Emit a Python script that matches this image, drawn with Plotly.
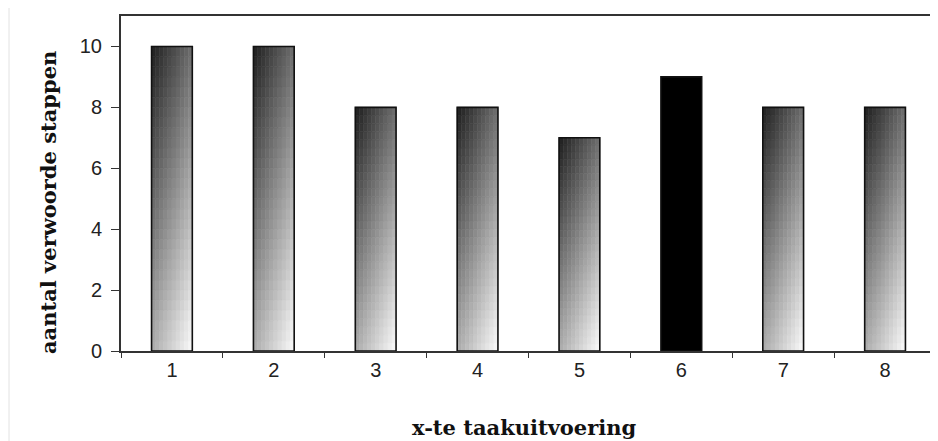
import plotly.graph_objects as go

categories = ["1", "2", "3", "4", "5", "6", "7", "8"]
values = [10, 10, 8, 8, 7, 9, 8, 8]
solid_index = 5  # bar "6" is drawn solid black
y_ticks = [0, 2, 4, 6, 8, 10]

BAR_W = 0.4
M = 10   # horizontal slices per bar (for gradient)
N = 30   # vertical segments per bar

# page has an 8px body margin, so figure coords = page coords - 8
OFF = 8
L, T = 121 - OFF, 16 - OFF
PW, PH = 815, 335
R = 938 - L - PW
B = 441 - T - PH


def px_x(page_x):
    return (page_x - OFF - L) / PW


def px_y(page_y):
    return (T + PH - (page_y - OFF)) / PH


def shade(u, h):
    # u: 0 left -> 1 right ; h: 0 bottom -> 1 top
    g = 30 + 222 * (0.64 * (1 - h) + 0.36 * u)
    g = int(max(0, min(255, g)))
    return f"rgb({g},{g},{g})"


grad_cats = [c for i, c in enumerate(categories) if i != solid_index]
grad_vals = [v for i, v in enumerate(values) if i != solid_index]

fig = go.Figure()
for j in range(M):
    xs, ys, bases, cols = [], [], [], []
    u = (j + 0.5) / M
    for c, v in zip(grad_cats, grad_vals):
        for k in range(N):
            h = (k + 0.5) / N
            xs.append(c)
            ys.append(v / N)
            bases.append(k * v / N)
            cols.append(shade(u, h))
    fig.add_trace(go.Bar(
        x=xs, y=ys, base=bases,
        width=BAR_W / M, offset=-BAR_W / 2 + j * BAR_W / M,
        marker=dict(color=cols, line=dict(color=cols, width=0.6)),
        hoverinfo="skip", showlegend=False,
    ))

# solid black bar
fig.add_trace(go.Bar(
    x=[categories[solid_index]], y=[values[solid_index]], width=BAR_W,
    marker=dict(color="black", line=dict(width=0)),
    hoverinfo="skip", showlegend=False,
))

# outline
fig.add_trace(go.Bar(
    x=categories, y=values, width=BAR_W,
    marker=dict(color="rgba(0,0,0,0)", line=dict(color="#111", width=1.6)),
    showlegend=False,
))

title_font = dict(family="DejaVu Serif, serif", size=21, color="#111")
fig.update_layout(
    width=938, height=441,
    margin=dict(l=L, r=R, t=T, b=B, autoexpand=False),
    barmode="overlay",
    plot_bgcolor="white", paper_bgcolor="white",
    font=dict(family="Liberation Sans, Arial, sans-serif", size=20, color="#222"),
    shapes=[dict(type="line", xref="paper", yref="paper",
                 x0=px_x(9), x1=px_x(9), y0=px_y(441), y1=px_y(8),
                 line=dict(color="#e2e2e2", width=1))],
    annotations=[
        dict(text="<b>x-te taakuitvoering</b>", xref="paper", yref="paper",
             x=px_x(524), y=px_y(427), showarrow=False,
             xanchor="center", yanchor="middle", font=title_font),
        dict(text="<b>aantal verwoorde stappen</b>", xref="paper", yref="paper",
             x=px_x(48), y=px_y(203), showarrow=False,
             textangle=-90, xanchor="center", yanchor="middle", font=title_font),
    ],
)
fig.update_xaxes(
    type="category", categoryorder="array", categoryarray=categories,
    range=[-0.5, 7.5], automargin=False,
    showline=True, linecolor="#333", linewidth=2, mirror=True,
    ticks="outside", tickson="boundaries", ticklen=5, tickcolor="#333",
    showgrid=False,
)
fig.update_yaxes(
    range=[0, 11], tickvals=y_ticks, automargin=False,
    showline=True, linecolor="#333", linewidth=2, mirror=True,
    ticks="outside", ticklen=8, tickcolor="#333", ticklabelstandoff=5,
    showgrid=False, zeroline=False,
)

fig.write_html("out.html")
